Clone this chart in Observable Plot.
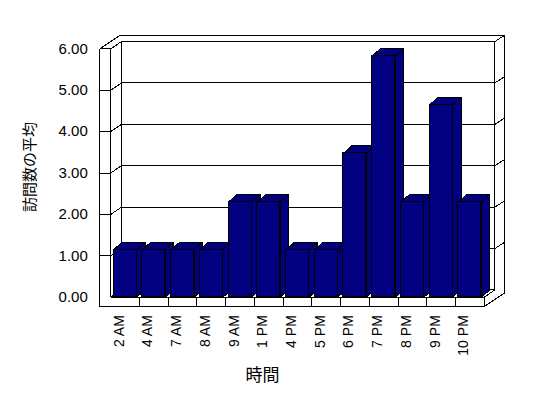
<!DOCTYPE html>
<html>
<head>
<meta charset="utf-8">
<script src="https://cdn.jsdelivr.net/npm/d3@7"></script>
<script src="https://cdn.jsdelivr.net/npm/@observablehq/plot@0.6"></script>
<style>
  html, body { margin: 0; padding: 0; background: #fff; }
  #chart svg { shape-rendering: crispEdges; }
  #chart svg text { shape-rendering: auto; }
</style>
</head>
<body>
<div id="chart"></div>
<script>
// ---- data ----
const hours = ["2 AM","4 AM","7 AM","8 AM","9 AM","1 PM","4 PM","5 PM","6 PM","7 PM","8 PM","9 PM","10 PM"];
const visits = [1.15,1.15,1.15,1.15,2.3,2.3,1.15,1.15,3.48,5.83,2.3,4.65,2.3];
const yTicks = [0,1,2,3,4,5,6];
const yTickLabels = ["0.00","1.00","2.00","3.00","4.00","5.00","6.00"];
const xTitle = "時間";
const yTitle = "訪問数の平均";

// ---- 3D look (style constants, in scale units) ----
const N = hours.length, TOP = yTicks[yTicks.length - 1];
const WALL = 0.383, FLOOR = 0.225;
const DEP = {x: 0.373, y: 0.176};     // front -> back wall face
const BACK = {x: 0.696, y: 0.321};    // front -> back of back wall
const BAR = {x1: 0.1, x2: 0.9, dx: 0.3, dy: 0.18};
const NAVY = "#000080";

function poly(id, pts) {
  return pts.concat([pts[0]]).map(([x, y]) => ({id, x, y}));
}

const wallFaces = [
  ...poly("back", [[DEP.x, DEP.y], [N + DEP.x, DEP.y], [N + DEP.x, TOP + DEP.y], [DEP.x, TOP + DEP.y]]),
  ...poly("leftIn", [[0, 0], [DEP.x, DEP.y], [DEP.x, TOP + DEP.y], [0, TOP]]),
  ...poly("floorTop", [[0, 0], [N, 0], [N + DEP.x, DEP.y], [DEP.x, DEP.y]]),
  ...poly("top", [[-WALL, TOP], [0, TOP], [DEP.x, TOP + DEP.y], [N + DEP.x, TOP + DEP.y],
                  [N + BACK.x, TOP + BACK.y], [-WALL + BACK.x, TOP + BACK.y]]),
  ...poly("front", [[-WALL, TOP], [0, TOP], [0, 0], [N, 0], [N, -FLOOR], [-WALL, -FLOOR]]),
  ...poly("right", [[N, -FLOOR], [N, 0], [N + DEP.x, DEP.y], [N + DEP.x, TOP + DEP.y],
                    [N + BACK.x, TOP + BACK.y], [N + BACK.x, -FLOOR + BACK.y]])
];

const grid = yTicks.filter(v => v > 0 && v < TOP).flatMap(v => [
  {id: v, x: -WALL, y: v}, {id: v, x: 0, y: v}, {id: v, x: DEP.x, y: v + DEP.y},
  {id: v, x: N + DEP.x, y: v + DEP.y}, {id: v, x: N + BACK.x, y: v + BACK.y}
]);

const sides = visits.flatMap((v, i) => poly(i, [
  [i + BAR.x2, 0], [i + BAR.x2, v], [i + BAR.x2 + BAR.dx, v + BAR.dy], [i + BAR.x2 + BAR.dx, BAR.dy]
]));
const tops = visits.flatMap((v, i) => poly(i, [
  [i + BAR.x1, v], [i + BAR.x2, v], [i + BAR.x2 + BAR.dx, v + BAR.dy], [i + BAR.x1 + BAR.dx, v + BAR.dy]
]));

const font = "'Liberation Sans', Arial, sans-serif";
const cjk = "'Noto Sans CJK JP', sans-serif";
const lineOpts = {x: "x", y: "y", z: "id", stroke: "black", strokeWidth: 1, strokeLinejoin: "miter", strokeLinecap: "butt"};

const chart = Plot.plot({
  width: 548,
  height: 398,
  marginLeft: 110.3,
  marginRight: 64.3,
  marginTop: 48.3,
  marginBottom: 101.3,
  style: {background: "#fff", fontFamily: font},
  x: {domain: [0, N], axis: null},
  y: {domain: [0, TOP], axis: null},
  marks: [
    Plot.line(wallFaces, {...lineOpts, fill: "white"}),
    Plot.line(grid, lineOpts),
    Plot.ruleX(d3.range(1, N), {x: d => d, y1: 0, y2: -FLOOR, stroke: "black", strokeWidth: 1}),
    Plot.line(sides, {...lineOpts, fill: NAVY}),
    Plot.line(tops, {...lineOpts, fill: NAVY}),
    Plot.rect(visits, {x1: (d, i) => i + BAR.x1, x2: (d, i) => i + BAR.x2, y1: 0, y2: d => d, fill: NAVY, stroke: "black", strokeWidth: 1}),
    Plot.text(yTicks, {y: d => d, text: (d, i) => yTickLabels[i], frameAnchor: "left", textAnchor: "end", dx: -23, fontSize: 15, fill: "black"}),
    Plot.text(hours, {x: (d, i) => i + 0.5, text: d => d, frameAnchor: "bottom", rotate: -90, textAnchor: "end", dx: -1.5, dy: 18, fontSize: 14, fill: "black"}),
    Plot.text([xTitle], {frameAnchor: "bottom", text: d => d, textAnchor: "middle", dx: -35, dy: 84, fontSize: 17, fontFamily: cjk, fill: "black"}),
    Plot.text([yTitle], {frameAnchor: "left", text: d => d, rotate: -90, textAnchor: "middle", dx: -81, dy: -6, fontSize: 15, fontFamily: cjk, fill: "black"})
  ]
});
document.getElementById("chart").appendChild(chart);
</script>
</body>
</html>
